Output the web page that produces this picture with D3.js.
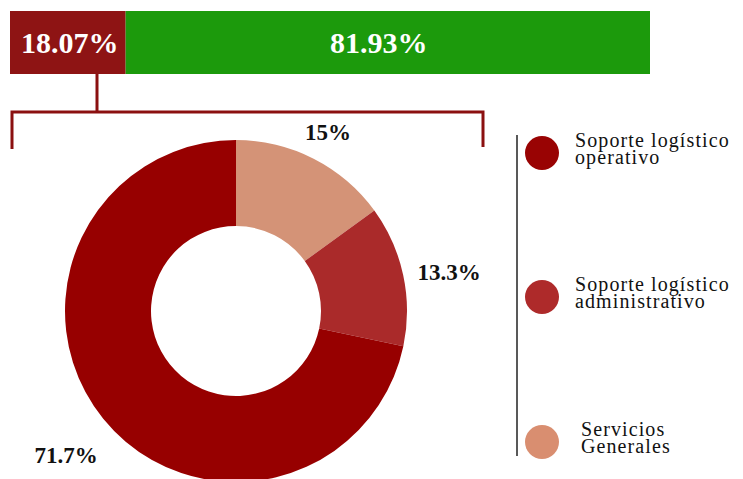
<!DOCTYPE html>
<html>
<head>
<meta charset="utf-8">
<script src="https://cdn.jsdelivr.net/npm/d3@7/dist/d3.min.js"></script>
<style>
  html, body { margin: 0; padding: 0; background: #fff; }
  svg { display: block; }
  text { font-family: "Liberation Serif", "DejaVu Serif", "Times New Roman", serif; }
</style>
</head>
<body>
<svg id="chart" width="743" height="479"></svg>
<script>
// Overall split shown in the top bar
const barLabels = ["Apoyo", "Resto"];
const barValues = [18.07, 81.93];
const barColors = ["#8e1414", "#1c9a0c"];

// Breakdown of the first bar segment
const donutCategories = ["Servicios Generales", "Soporte logístico administrativo", "Soporte logístico operativo"];
const donutValues = [15, 13.3, 71.7];
const donutColors = ["#d49377", "#aa2a2a", "#970000"];

// Legend entries (top to bottom)
const legendLines = [
  ["Soporte logístico", "operativo"],
  ["Soporte logístico", "administrativo"],
  ["Servicios", "Generales"]
];
const legendColors = ["#990303", "#ae2a2a", "#d98e70"];

const svg = d3.select("#chart");

// ---- Stacked bar ----
const x = d3.scaleLinear().domain([0, d3.sum(barValues)]).range([10, 650]);
let acc = 0;
const segs = barValues.map((v, i) => {
  const s = { v, i, x0: acc, x1: acc + v };
  acc += v;
  return s;
});
const barTop = 11, barBottom = 74;

svg.selectAll("rect.seg").data(segs).join("rect")
  .attr("class", "seg")
  .attr("x", d => x(d.x0))
  .attr("y", barTop)
  .attr("width", d => x(d.x1) - x(d.x0))
  .attr("height", barBottom - barTop)
  .attr("fill", d => barColors[d.i]);

svg.selectAll("text.seglab").data(segs).join("text")
  .attr("class", "seglab")
  .attr("x", d => d.i === 0 ? (x(d.x0) + x(d.x1)) / 2 + 2 : (x(d.x0) + x(d.x1)) / 2 - 9)
  .attr("y", 53)
  .attr("text-anchor", "middle")
  .attr("fill", "#fff")
  .attr("font-weight", "bold")
  .attr("font-size", 30)
  .text(d => d3.format(".2f")(d.v) + "%");

// ---- Bracket linking the first segment to the donut ----
const bracketColor = "#8b1010";
const connX = 97;
svg.append("path")
  .attr("d", `M${connX},${barBottom} V112 M12,149 V112 H483 V147`)
  .attr("fill", "none")
  .attr("stroke", bracketColor)
  .attr("stroke-width", 3);

// ---- Donut ----
const cx = 236, cy = 311, R = 171, r = 85;
const pie = d3.pie().sort(null).value(d => d)(donutValues);
const arc = d3.arc().innerRadius(r).outerRadius(R);
const g = svg.append("g").attr("transform", `translate(${cx},${cy})`);
g.selectAll("path").data(pie).join("path")
  .attr("d", arc)
  .attr("fill", (d, i) => donutColors[i]);

// Percentage labels around the donut
const labelPos = [[328, 140], [449, 280], [66, 463]];
svg.selectAll("text.plab").data(pie).join("text")
  .attr("class", "plab")
  .attr("x", (d, i) => labelPos[i][0])
  .attr("y", (d, i) => labelPos[i][1])
  .attr("text-anchor", "middle")
  .attr("font-weight", "bold")
  .attr("font-size", 23)
  .attr("fill", "#111")
  .text(d => d.data + "%");

// ---- Legend ----
svg.append("line")
  .attr("x1", 517).attr("x2", 517)
  .attr("y1", 135).attr("y2", 456)
  .attr("stroke", "#222").attr("stroke-width", 1.5);

const legendY = [153, 297, 442];
const legendTextX = [575, 575, 581];
const lg = svg.selectAll("g.leg").data(legendLines).join("g").attr("class", "leg");
lg.append("circle")
  .attr("cx", 542)
  .attr("cy", (d, i) => legendY[i])
  .attr("r", 17)
  .attr("fill", (d, i) => legendColors[i]);
lg.each(function (lines, i) {
  const t = d3.select(this).append("text")
    .attr("font-size", 20)
    .attr("letter-spacing", 1.1)
    .attr("fill", "#111");
  lines.forEach((ln, j) => {
    t.append("tspan")
      .attr("x", legendTextX[i])
      .attr("y", legendY[i] - 6 + j * 17)
      .text(ln);
  });
});
</script>
</body>
</html>
